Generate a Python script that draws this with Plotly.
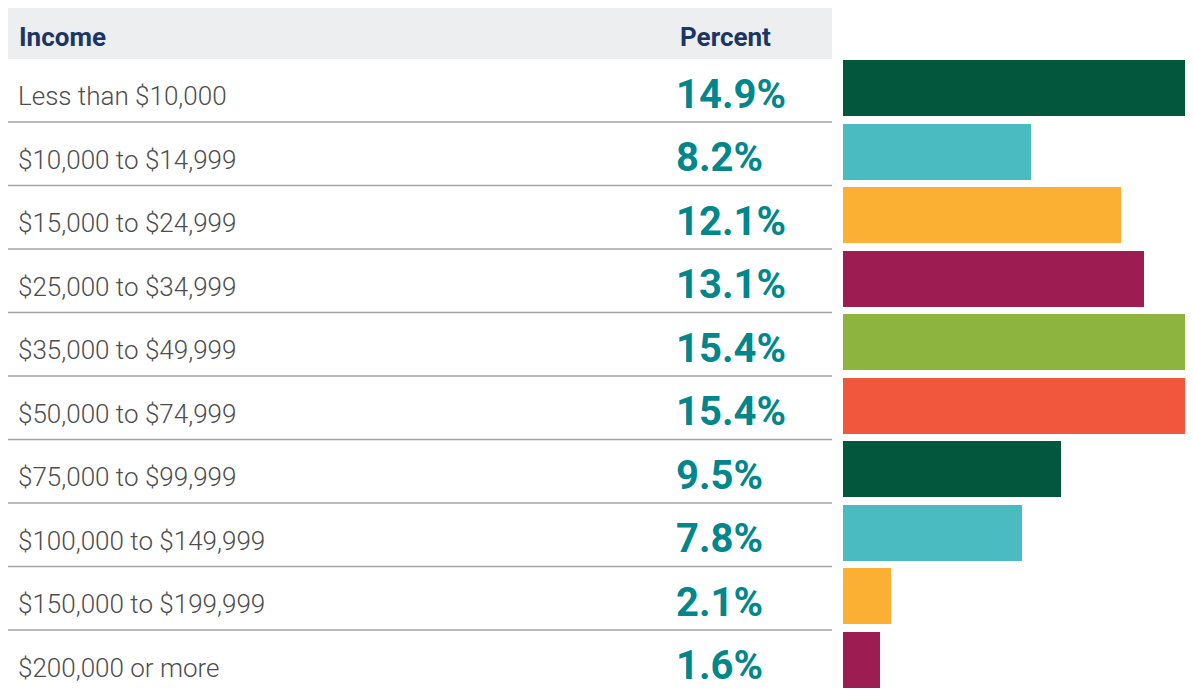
import plotly.graph_objects as go

categories = ["Less than $10,000", "$10,000 to $14,999", "$15,000 to $24,999",
              "$25,000 to $34,999", "$35,000 to $49,999", "$50,000 to $74,999",
              "$75,000 to $99,999", "$100,000 to $149,999", "$150,000 to $199,999",
              "$200,000 or more"]
percent = [14.9, 8.2, 12.1, 13.1, 15.4, 15.4, 9.5, 7.8, 2.1, 1.6]
bar_colors = ["#03573D", "#4ABBC1", "#FBB034", "#9D1C52", "#8DB43E",
              "#F0573C", "#03573D", "#4ABBC1", "#FBB034", "#9D1C52"]
headers = ["Income", "Percent"]

W, H = 1193, 692
OFF = 8  # page offset of the figure inside the browser window
pitch = 63.5
first_center = 88.0 - OFF
ymin = -first_center / pitch
ymax = ymin + H / pitch


def px(v):
    return (v - OFF) / W


def py(v):
    return (v - OFF - first_center) / pitch


fig = go.Figure()
fig.add_trace(go.Bar(
    y=list(range(len(categories))), x=percent, orientation="h",
    marker=dict(color=bar_colors, line=dict(width=0)),
    width=56 / pitch, hoverinfo="skip", showlegend=False,
))

shapes = []
annotations = []
# header band
shapes.append(dict(type="rect", xref="paper", yref="y",
                   x0=px(7), x1=px(832), y0=py(4), y1=py(59),
                   fillcolor="#EDEEF0", line=dict(width=0), layer="below"))
hy = py(37)
annotations.append(dict(text="<b>" + headers[0] + "</b>", xref="paper", yref="y",
                        x=px(17), y=hy, xanchor="left", yanchor="middle", showarrow=False,
                        font=dict(family="Roboto", size=26, color="#1B3564")))
annotations.append(dict(text="<b>" + headers[1] + "</b>", xref="paper", yref="y",
                        x=px(725), y=hy, xanchor="center", yanchor="middle", showarrow=False,
                        font=dict(family="Roboto", size=26, color="#1B3564")))

for i, (cat, p) in enumerate(zip(categories, percent)):
    annotations.append(dict(text=cat, xref="paper", yref="y", x=px(16), y=i + 8 / pitch,
                            xanchor="left", yanchor="middle", showarrow=False,
                            font=dict(family="Roboto", size=26, color="#4D4D4D", weight=300)))
    annotations.append(dict(text="<b>%.1f%%</b>" % p, xref="paper", yref="y", x=px(674),
                            y=i + 6 / pitch, xanchor="left", yanchor="middle", showarrow=False,
                            font=dict(family="Roboto", size=40, color="#00868B")))
    if i < len(categories) - 1:
        ly = i + (122 - 88) / pitch
        shapes.append(dict(type="line", xref="paper", yref="y", x0=px(7), x1=px(832),
                           y0=ly, y1=ly, line=dict(color="#A3A3A3", width=1.5)))

# 14.9% bar ends near x=1185 in the window -> scale ~22.95 px per percent
x_end = 843 + 22.95 * 15.4
fig.update_layout(
    width=W, height=H, margin=dict(l=0, r=0, t=0, b=0),
    paper_bgcolor="white", plot_bgcolor="white",
    xaxis=dict(domain=[px(843), min(px(x_end), 1)], range=[0, 15.4],
               visible=False, fixedrange=True),
    yaxis=dict(range=[ymax, ymin], visible=False, fixedrange=True),
    shapes=shapes, annotations=annotations, bargap=0,
)
fig.write_html("out.html")
